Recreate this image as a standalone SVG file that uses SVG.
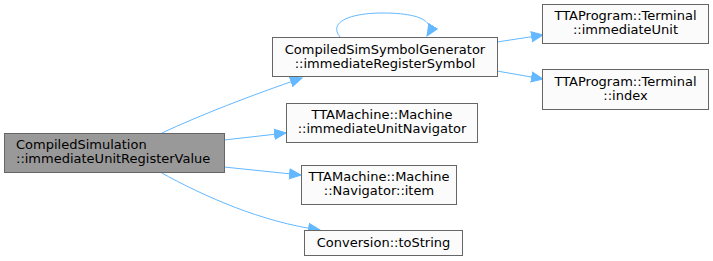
<svg xmlns="http://www.w3.org/2000/svg" width="713" height="261" viewBox="0 0 713 261">
  <style>
    .node rect { fill: #fbfbfb; stroke: #666666; stroke-width: 1; }
    .node.main rect { fill: #999999; stroke: #666666; }
    .node text { font-family: "DejaVu Sans", sans-serif; font-size: 13px; fill: #000000; text-anchor: middle; }
    .node.main text { text-anchor: start; }
    .edges path { fill: none; stroke: #63b8ff; stroke-width: 1; marker-end: url(#arrow); }
  </style>
  <defs>
    <marker id="arrow" markerUnits="userSpaceOnUse" markerWidth="14" markerHeight="12" viewBox="0 -6 14 12" refX="12" refY="0" orient="auto">
      <path d="M0.5,-5 L12,0 L0.5,5 Z" fill="#63b8ff" stroke="#63b8ff" stroke-width="1"/>
    </marker>
  </defs>
  <rect width="713" height="261" fill="#ffffff"/>

  <g class="edges">
    <path d="M162,133 C198,116 252,95 302,78"/>
    <path d="M224,140 L286,133"/>
    <path d="M224,167 L301,175"/>
    <path d="M160,172 C205,197 262,222 320,230"/>
    <path d="M340,37 C328,22 350,13 383,13 C416,13 437,20 427,36"/>
    <path d="M497,42 L543,35"/>
    <path d="M497,71 L543,79"/>
  </g>

  <g id="node-main" class="node main">
    <rect x="4.5" y="133.5" width="220" height="39"/>
    <text x="16" y="149">CompiledSimulation</text>
    <text x="16" y="163">::immediateUnitRegisterValue</text>
  </g>

  <g id="node-symbolgen" class="node">
    <rect x="272.5" y="37.5" width="225" height="39"/>
    <text x="385" y="54">CompiledSimSymbolGenerator</text>
    <text x="385" y="68">::immediateRegisterSymbol</text>
  </g>

  <g id="node-terminal-immunit" class="node">
    <rect x="542.5" y="4.5" width="166" height="39"/>
    <text x="625.5" y="20">TTAProgram::Terminal</text>
    <text x="625.5" y="34">::immediateUnit</text>
  </g>

  <g id="node-terminal-index" class="node">
    <rect x="542.5" y="69.5" width="166" height="40"/>
    <text x="625.5" y="86">TTAProgram::Terminal</text>
    <text x="625.5" y="100">::index</text>
  </g>

  <g id="node-iunavigator" class="node">
    <rect x="286.5" y="103.5" width="191" height="39"/>
    <text x="382" y="119">TTAMachine::Machine</text>
    <text x="382" y="133">::immediateUnitNavigator</text>
  </g>

  <g id="node-navitem" class="node">
    <rect x="301.5" y="165.5" width="155" height="39"/>
    <text x="379" y="181">TTAMachine::Machine</text>
    <text x="379" y="195">::Navigator::item</text>
  </g>

  <g id="node-tostring" class="node">
    <rect x="304.5" y="230.5" width="158" height="25"/>
    <text x="383.5" y="247">Conversion::toString</text>
  </g>
</svg>
